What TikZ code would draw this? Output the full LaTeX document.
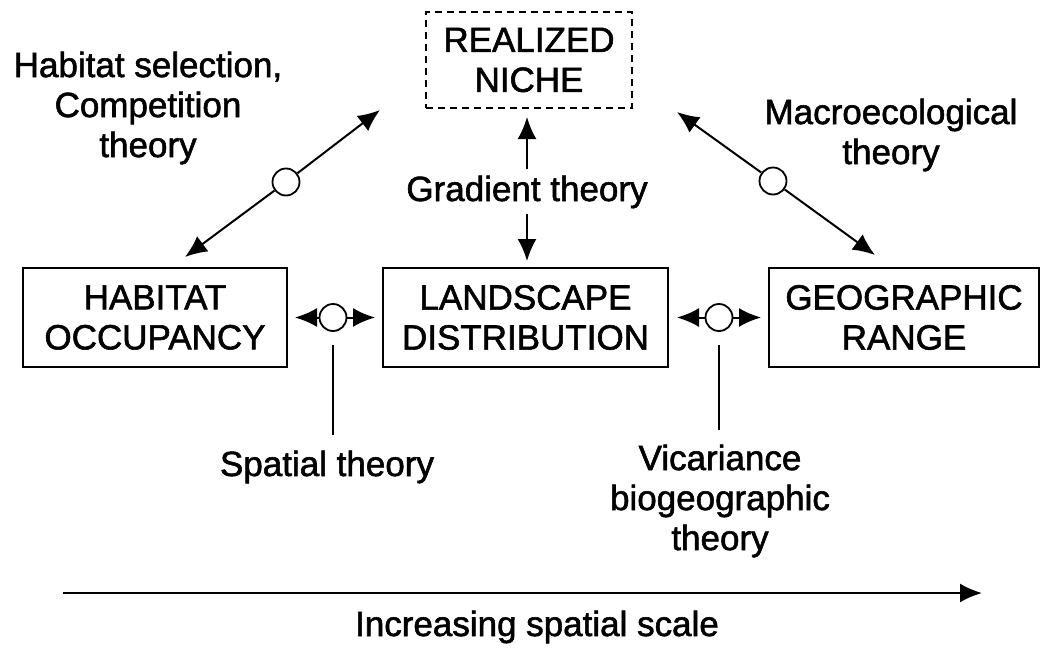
\documentclass[tikz,border=0pt]{standalone}
\usepackage{fontspec}
\setmainfont{Liberation Sans}[UprightFeatures={FakeBold=1.6}]
\usetikzlibrary{arrows.meta}
\begin{document}
\begin{tikzpicture}[x=1pt,y=-1pt,
  every node/.style={font=\fontsize{35}{40}\selectfont},
  boxnode/.style={draw,line width=2.2pt,align=center,inner sep=0pt},
  nichebox/.style={draw,line width=1.8pt,dash pattern=on 7pt off 5pt,align=center,inner sep=0pt},
  hub/.style={circle,draw,line width=1.8pt,fill=white,minimum size=27pt,inner sep=0pt},
  lbl/.style={align=center,inner sep=0pt},
  arr/.style={line width=2pt,-{Latex[length=22pt,width=19pt]}},
  tick/.style={line width=1.5pt}
]
\useasboundingbox (0,0) rectangle (1041,648);
% boxes
\node[nichebox,minimum width=206pt,minimum height=96pt] (niche) at (529,60) {REALIZED\\NICHE};
\node[boxnode,minimum width=264pt,minimum height=99pt] (hab) at (155,317.5) {HABITAT\\OCCUPANCY};
\node[boxnode,minimum width=285pt,minimum height=99pt] (land) at (525.5,317.5) {LANDSCAPE\\DISTRIBUTION};
\node[boxnode,minimum width=270pt,minimum height=99pt] (geo) at (904,317.5) {GEOGRAPHIC\\RANGE};
% hubs
\node[hub] (c1) at (333,317.5) {};
\node[hub] (c2) at (719,317.5) {};
\node[hub] (c3) at (286,182) {};
\node[hub] (c4) at (773,181) {};
% arrow end points
\coordinate (t1l) at (295,317.5);
\coordinate (t1r) at (375,317.5);
\coordinate (t2l) at (677,317.5);
\coordinate (t2r) at (761,317.5);
\coordinate (d1a) at (380,110);
\coordinate (d1b) at (185,257);
\coordinate (d2a) at (677,112);
\coordinate (d2b) at (875,255);
\coordinate (gtop) at (527,117);
\coordinate (gbot) at (527,261);
\coordinate (s1a) at (333,345);
\coordinate (s1b) at (333,435);
\coordinate (s2a) at (719,345);
\coordinate (s2b) at (719,430);
\coordinate (ax0) at (63,593);
\coordinate (ax1) at (982,593);
% labels
\node[lbl] (hs) at (148,108) {Habitat selection,\\Competition\\theory};
\node[lbl] (macro) at (891,135) {Macroecological\\theory};
\node[lbl,inner sep=6pt,anchor=base] (grad) at (527,201) {Gradient theory};
\node[lbl,anchor=base] (spat) at (327,476) {Spatial theory};
\node[lbl] (vic) at (720,501) {Vicariance\\biogeographic\\theory};
\node[lbl,anchor=base] (inc) at (537,636) {Increasing spatial scale};
% connectors
\draw[arr] (c1) -- (t1l);
\draw[arr] (c1) -- (t1r);
\draw[arr] (c2) -- (t2l);
\draw[arr] (c2) -- (t2r);
\draw[arr] (c3) -- (d1a);
\draw[arr] (c3) -- (d1b);
\draw[arr] (c4) -- (d2a);
\draw[arr] (c4) -- (d2b);
\draw[arr] (grad) -- (gtop);
\draw[arr] (grad) -- (gbot);
\draw[tick] (s1a) -- (s1b);
\draw[tick] (s2a) -- (s2b);
\draw[arr,line width=2.2pt] (ax0) -- (ax1);
\end{tikzpicture}
\end{document}
